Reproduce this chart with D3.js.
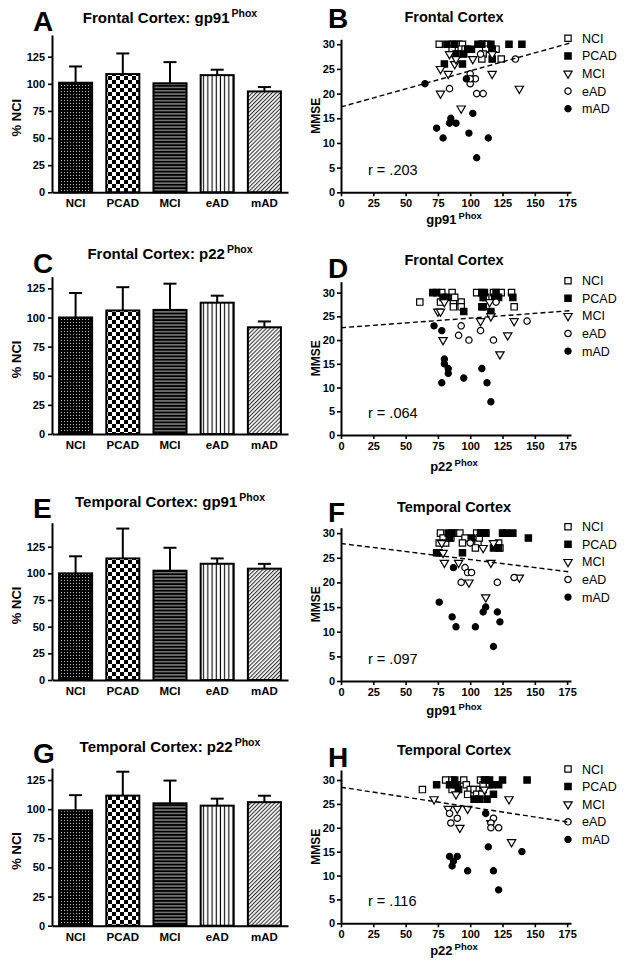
<!DOCTYPE html>
<html><head><meta charset="utf-8">
<script src="https://cdn.jsdelivr.net/npm/d3@7"></script>
<style>
body{margin:0;background:#fff}
svg{display:block}
text{font-family:"Liberation Sans",Arial,Helvetica,sans-serif}
</style>
</head><body><svg id="c" width="626" height="975"></svg>
<script>
// ---------------- DATA ----------------
const groups = ["NCI","PCAD","MCI","eAD","mAD"];
const yTicksBar = [0,25,50,75,100,125];
const yTicksMMSE = [0,5,10,15,20,25,30];
const xTicksPhox = [0,25,50,75,100,125,150,175];

// bar charts: % NCI mean and upper SEM
const meanA = [101,109,100.5,108,93],  errA = [15,19,19.5,5,4];
const meanC = [100,106,106.5,112.7,91.6], errC = [21,20,22.5,6,5];
const meanE = [100,114,102.5,109,104.4], errE = [16,28,21.5,5,4.5];
const meanG = [99,111.6,105,103,106], errG = [13,20.5,19.5,6,5.5];

// scatter: [phox value, MMSE]
const B_NCI = [[76,30],[86,30],[91,30],[94,30],[110,30],[113,30],[86,29],[93,29],[112,29],[120,29],[90,28],[110,28],[109,27],[124,27],[96,29]];
const B_PCAD = [[82,30],[88,30],[106,30],[109,30],[116,30],[130,30],[140,30],[98,29],[117,29],[101,29],[89,28],[95,28],[94,26],[80,26],[117,27]];
const B_MCI = [[84,28],[77,25],[83,24],[88,26],[77,20],[93,17],[102,27],[117,24],[138,21],[117,28],[89,27]];
const B_eAD = [[84,21],[100,24],[100,22],[104,23],[105,20],[110,20],[135,27],[108,28],[100,23]];
const B_mAD = [[65,22],[97,23],[102,16],[85,15],[84,14],[89,14],[74,13],[79,11],[99,12],[114,11],[105,7]];

const D_NCI = [[61,28],[78,30],[86,30],[105,30],[118,30],[124,30],[132,30],[77,28],[87,28],[93,28],[87,27],[93,27],[88,29],[134,27],[112,29]];
const D_PCAD = [[71,30],[74,30],[109,30],[111,30],[120,30],[79,29],[110,29],[119,29],[133,29],[82,29],[109,27],[110,27],[95,26],[116,26],[122,29]];
const D_MCI = [[80,28],[75,26],[77,26],[115,28],[116,25],[108,24],[134,24],[79,20],[129,21],[123,17]];
const D_eAD = [[93,23],[144,24],[91,21],[99,20],[108,22],[118,20],[120,28]];
const D_mAD = [[72,23],[78,22],[80,16],[80,15],[83,14],[83,13],[78,11],[95,12],[109,14],[113,11],[116,7]];

const F_NCI = [[77,30],[88,30],[92,30],[105,30],[112,30],[79,29],[96,29],[76,28],[81,28],[94,28],[106,28],[122,28],[104,27],[123,27],[107,29],[85,29]];
const F_PCAD = [[83,30],[86,30],[108,30],[110,30],[112,30],[125,30],[128,30],[133,30],[84,29],[101,29],[145,29],[118,27],[122,27],[74,26],[76,26],[94,26]];
const F_MCI = [[78,28],[118,28],[110,27],[79,26],[80,24],[91,24],[116,24],[99,20],[138,21],[112,17]];
const F_eAD = [[96,23],[98,22],[101,22],[93,20],[121,20],[134,21],[100,28]];
const F_mAD = [[87,23],[76,16],[86,13],[89,11],[104,11],[112,15],[110,14],[121,14],[123,12],[118,7]];

const H_NCI = [[63,28],[81,30],[86,30],[95,30],[108,30],[112,30],[86,28],[90,29],[97,29],[100,28],[103,28],[107,28],[110,28],[98,27],[105,27],[109,27],[110,29],[115,29]];
const H_PCAD = [[74,29],[84,29],[88,30],[111,30],[115,30],[125,30],[144,30],[89,29],[117,29],[122,29],[118,27],[103,26],[107,26],[113,26],[91,28]];
const H_MCI = [[72,26],[83,24],[90,24],[98,24],[92,20],[116,21],[132,17],[130,26],[89,27],[111,28]];
const H_eAD = [[84,23],[85,21],[90,22],[118,22],[116,21],[116,20],[122,20]];
const H_mAD = [[112,23],[114,16],[140,15],[84,14],[90,14],[87,13],[86,12],[98,11],[118,11],[122,7]];

// regression fits: [intercept, slope]
const fitB = [17.3, 0.073], fitD = [22.6, 0.0202], fitF = [27.9, -0.0326], fitH = [28.5, -0.0416];
const rB = "r = .203", rD = "r = .064", rF = "r = .097", rH = "r = .116";

// ---------------- DRAW ----------------
const svg = d3.select("#c");
const defs = svg.append("defs");
// NCI: dark with white dots
let p = defs.append("pattern").attr("id","pat0").attr("patternUnits","userSpaceOnUse").attr("width",3).attr("height",3);
p.append("rect").attr("width",3).attr("height",3).attr("fill","#000");
p.append("rect").attr("x",1).attr("y",1).attr("width",1).attr("height",1).attr("fill","#bbb");
// PCAD: checkerboard
p = defs.append("pattern").attr("id","pat1").attr("patternUnits","userSpaceOnUse").attr("width",8).attr("height",8);
p.append("rect").attr("width",8).attr("height",8).attr("fill","#fff");
p.append("rect").attr("width",4).attr("height",4).attr("fill","#000");
p.append("rect").attr("x",4).attr("y",4).attr("width",4).attr("height",4).attr("fill","#000");
// MCI: horizontal lines
p = defs.append("pattern").attr("id","pat2").attr("patternUnits","userSpaceOnUse").attr("width",4).attr("height",3.3);
p.append("rect").attr("width",4).attr("height",3.3).attr("fill","#000");
p.append("rect").attr("y",1.2).attr("width",4).attr("height",0.9).attr("fill","#ccc");
// eAD: vertical lines
p = defs.append("pattern").attr("id","pat3").attr("patternUnits","userSpaceOnUse").attr("width",4.2).attr("height",4);
p.append("rect").attr("width",4.2).attr("height",4).attr("fill","#fff");
p.append("rect").attr("x",1.5).attr("width",1.1).attr("height",4).attr("fill","#000");
// mAD: diagonal
p = defs.append("pattern").attr("id","pat4").attr("patternUnits","userSpaceOnUse").attr("width",2.8).attr("height",2.8).attr("patternTransform","rotate(45)");
p.append("rect").attr("width",2.8).attr("height",2.8).attr("fill","#fff");
p.append("rect").attr("width",1.1).attr("height",2.8).attr("fill","#333");

function styleAxis(g, fs){
  g.select(".domain").attr("stroke","#000").attr("stroke-width",2);
  g.selectAll(".tick line").attr("stroke","#000").attr("stroke-width",1.6);
  g.selectAll(".tick text").attr("fill","#000").attr("font-size",fs).attr("font-weight","bold")
    .attr("font-family","'Liberation Sans',Arial,sans-serif");
}

function addTitle(x, y, main, sup, fs, supfs, raise){
  const t = svg.append("text").attr("x",x).attr("y",y).attr("text-anchor","middle")
    .attr("font-weight","bold").attr("font-size",fs);
  t.append("tspan").text(main);
  if (sup) t.append("tspan").attr("font-size",supfs).attr("dy",-(raise||6)).attr("dx",2).text(sup);
  return t;
}

const barPanels = [
  {L:"A", main:"Frontal Cortex: gp91", top:35, bottom:192.3, ymax:145, tY:23, lY:31, means:meanA, errs:errA},
  {L:"C", main:"Frontal Cortex: p22", top:276.7, bottom:434, ymax:135, tY:259, lY:273, means:meanC, errs:errC},
  {L:"E", main:"Temporal Cortex: gp91", top:522.7, bottom:680, ymax:147.5, tY:507, lY:518, means:meanE, errs:errE},
  {L:"G", main:"Temporal Cortex: p22", top:768, bottom:925.7, ymax:135.3, tY:752, lY:763, means:meanG, errs:errG}
];

barPanels.forEach(cfg=>{
  const x = d3.scaleBand().domain(groups).range([52,288]).paddingInner(0.3).paddingOuter(0.15);
  const y = d3.scaleLinear().domain([0,cfg.ymax]).range([cfg.bottom,cfg.top]);
  const g = svg.append("g");
  const rows = groups.map((k,i)=>({k, m:cfg.means[i], e:cfg.errs[i], i}));
  // error bars
  g.selectAll("line.eb").data(rows).join("line")
    .attr("x1",d=>x(d.k)+x.bandwidth()/2).attr("x2",d=>x(d.k)+x.bandwidth()/2)
    .attr("y1",d=>y(d.m)).attr("y2",d=>y(d.m+d.e)).attr("stroke","#000").attr("stroke-width",2);
  g.selectAll("line.cap").data(rows).join("line")
    .attr("x1",d=>x(d.k)+x.bandwidth()/2-6.5).attr("x2",d=>x(d.k)+x.bandwidth()/2+6.5)
    .attr("y1",d=>y(d.m+d.e)).attr("y2",d=>y(d.m+d.e)).attr("stroke","#000").attr("stroke-width",2);
  // bars
  g.selectAll("rect.bar").data(rows).join("rect")
    .attr("x",d=>x(d.k)).attr("y",d=>y(d.m)).attr("width",x.bandwidth()).attr("height",d=>y(0)-y(d.m))
    .attr("fill",d=>`url(#pat${d.i})`).attr("stroke","#000").attr("stroke-width",2);
  // axes
  const ya = svg.append("g").attr("transform","translate(52,0)")
    .call(d3.axisLeft(y).tickValues(yTicksBar).tickSize(4).tickSizeOuter(0).tickPadding(3));
  styleAxis(ya, 11);
  const xa = svg.append("g").attr("transform",`translate(0,${y(0)})`)
    .call(d3.axisBottom(x).tickSize(0).tickSizeOuter(0).tickPadding(7));
  styleAxis(xa, 11.5);
  // labels
  svg.append("text").attr("transform",`translate(21,${(cfg.top+cfg.bottom)/2+4}) rotate(-90)`)
    .attr("text-anchor","middle").attr("font-weight","bold").attr("font-size",13).text("% NCI");
  addTitle(170, cfg.tY, cfg.main, "Phox", 15, 10.5, 6);
  svg.append("text").attr("x",33).attr("y",cfg.lY).attr("font-weight","bold").attr("font-size",28).text(cfg.L);
});

const symStyle = {
  NCI:{type:d3.symbolSquare,size:40,fill:"#fff",rot:0},
  PCAD:{type:d3.symbolSquare,size:40,fill:"#000",rot:0},
  MCI:{type:d3.symbolTriangle,size:30,fill:"#fff",rot:180},
  eAD:{type:d3.symbolCircle,size:32,fill:"#fff",rot:0},
  mAD:{type:d3.symbolCircle,size:30,fill:"#000",rot:0}
};

const scatterPanels = [
  {L:"B", title:"Frontal Cortex", xl:"gp91", top:39.3, bottom:192.3, ymax:31, tY:22, lY:28, xlY:224, data:[B_NCI,B_PCAD,B_MCI,B_eAD,B_mAD], fit:fitB, r:rB},
  {L:"D", title:"Frontal Cortex", xl:"p22", top:281.7, bottom:435, ymax:32.3, tY:265, lY:278, xlY:471, data:[D_NCI,D_PCAD,D_MCI,D_eAD,D_mAD], fit:fitD, r:rD},
  {L:"F", title:"Temporal Cortex", xl:"gp91", top:527.7, bottom:681, ymax:31.1, tY:512, lY:522, xlY:715, data:[F_NCI,F_PCAD,F_MCI,F_eAD,F_mAD], fit:fitF, r:rF},
  {L:"H", title:"Temporal Cortex", xl:"p22", top:770, bottom:923.3, ymax:32.1, tY:755, lY:767, xlY:955, data:[H_NCI,H_PCAD,H_MCI,H_eAD,H_mAD], fit:fitH, r:rH}
];

scatterPanels.forEach(cfg=>{
  const x = d3.scaleLinear().domain([0,178]).range([341,571]);
  const y = d3.scaleLinear().domain([0,cfg.ymax]).range([cfg.bottom,cfg.top]);
  const ya = svg.append("g").attr("transform","translate(341,0)")
    .call(d3.axisLeft(y).tickValues(yTicksMMSE).tickSize(4).tickSizeOuter(0).tickPadding(2));
  styleAxis(ya, 11);
  const xa = svg.append("g").attr("transform",`translate(0,${cfg.bottom})`)
    .call(d3.axisBottom(x).tickValues(xTicksPhox).tickSize(4).tickSizeOuter(0).tickPadding(3));
  styleAxis(xa, 11);
  const g = svg.append("g");
  groups.forEach((k,i)=>{
    const st = symStyle[k];
    const gen = d3.symbol().type(st.type).size(st.size);
    g.selectAll(null).data(cfg.data[i]).join("path")
      .attr("d",gen)
      .attr("transform",d=>`translate(${x(d[0])},${y(d[1])}) rotate(${st.rot})`)
      .attr("fill",st.fill).attr("stroke","#000").attr("stroke-width",1.2);
  });
  // legend
  groups.forEach((k,i)=>{
    const st = symStyle[k];
    const ly = cfg.top - 1 + i*17.6;
    svg.append("path").attr("d",d3.symbol().type(st.type).size(st.size)())
      .attr("transform",`translate(568,${ly}) rotate(${st.rot})`)
      .attr("fill",st.fill).attr("stroke","#000").attr("stroke-width",1.2);
    svg.append("text").attr("x",582).attr("y",ly+4.5).attr("font-size",12.5).text(k);
  });
  // regression line
  const xs = [0,178];
  svg.append("path").datum(xs)
    .attr("d",d3.line().x(v=>x(v)).y(v=>y(cfg.fit[0]+cfg.fit[1]*v)))
    .attr("fill","none").attr("stroke","#000").attr("stroke-width",1.4).attr("stroke-dasharray","5,3");
  svg.append("text").attr("x",368).attr("y",cfg.bottom-17).attr("font-size",14.5).text(cfg.r);
  // labels
  svg.append("text").attr("transform",`translate(320,${(cfg.top+cfg.bottom)/2}) rotate(-90)`)
    .attr("text-anchor","middle").attr("font-weight","bold").attr("font-size",12).text("MMSE");
  addTitle(454, cfg.xlY, cfg.xl, "Phox", 13, 9.5, 5);
  svg.append("text").attr("x",454).attr("y",cfg.tY).attr("text-anchor","middle")
    .attr("font-weight","bold").attr("font-size",14.5).text(cfg.title);
  svg.append("text").attr("x",328).attr("y",cfg.lY).attr("font-weight","bold").attr("font-size",28).text(cfg.L);
});
</script>
</body></html>
